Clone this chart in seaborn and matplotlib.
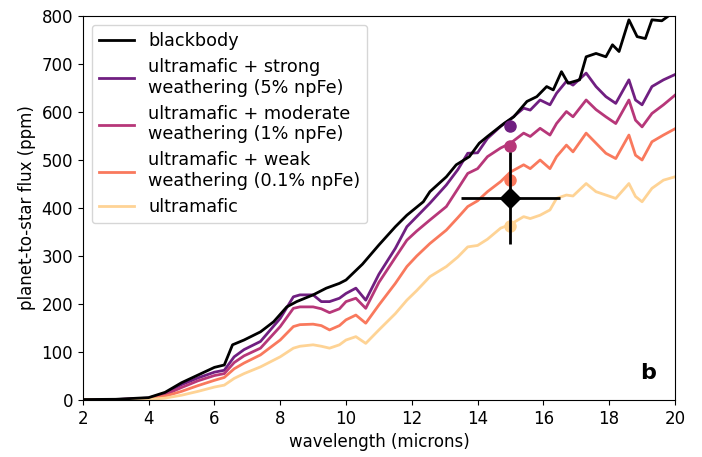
import numpy as np
import pandas as pd
import matplotlib
matplotlib.use('Agg')
import matplotlib.pyplot as plt
import seaborn as sns

# blackbody curve (own wavelength grid)
wl_bb = [2.0, 3.0, 4.0, 4.5, 5.0, 5.5, 6.0, 6.3, 6.55, 6.9, 7.4, 7.8, 8.2, 8.5, 9.0, 9.4, 9.8, 10.0,
         10.5, 11.0, 11.5, 11.85, 12.35, 12.55, 13.05, 13.35, 13.75, 14.05, 14.3, 14.8, 15.1, 15.5,
         15.8, 16.1, 16.3, 16.55, 16.75, 17.1, 17.3, 17.6, 17.9, 18.1, 18.3, 18.6, 18.85, 19.1, 19.3,
         19.6, 20.0]
blackbody = [1, 1.5, 5, 16, 36, 52, 68, 73, 115, 125, 142, 163, 194, 205, 219, 233, 243, 250,
             283, 323, 361, 385, 413, 434, 465, 490, 507, 535, 549, 576, 590, 622,
             632, 653, 646, 684, 660, 667, 715, 722, 715, 740, 726, 792, 757, 753, 792,
             790, 810]

# surface models (shared wavelength grid)
wl = [2.0, 3.0, 4.0, 4.5, 5.0, 5.5, 6.0, 6.3, 6.6, 6.9, 7.4, 8.0, 8.4, 8.6, 9.0, 9.25, 9.5, 9.8,
      10.0, 10.3, 10.6, 11.0, 11.5, 11.85, 12.15, 12.55, 13.05, 13.4, 13.7, 14.0, 14.3, 14.7, 15.0,
      15.4, 15.6, 15.9, 16.2, 16.4, 16.7, 16.9, 17.3, 17.6, 17.9, 18.2, 18.6, 18.8, 19.0, 19.3,
      19.65, 20.0]
strong = [1, 1, 4, 14, 32, 46, 58, 62, 90, 105, 122, 170, 215, 219, 219, 205, 205, 212,
          222, 233, 208, 262, 316, 361, 382, 410, 448, 480, 514, 515, 545, 570, 585,
          608, 604, 625, 615, 639, 664, 656, 681, 653, 632, 618, 667, 625, 615, 653,
          667, 678]
moderate = [1, 1, 3, 11, 26, 40, 51, 55, 78, 92, 108, 153, 191, 194, 194, 190, 182, 190,
            205, 212, 191, 245, 297, 333, 352, 375, 403, 440, 472, 482, 507, 525, 535,
            556, 549, 566, 552, 576, 601, 590, 625, 605, 590, 576, 625, 583, 569, 597,
            615, 635]
weak = [1, 1, 2, 8, 18, 30, 41, 47, 65, 77, 94, 125, 153, 157, 158, 155, 146, 155,
        167, 177, 160, 198, 243, 278, 300, 326, 354, 380, 403, 415, 434, 455, 475,
        490, 482, 500, 482, 507, 531, 517, 556, 535, 514, 503, 552, 510, 500, 538,
        552, 565]
ultramafic = [0.5, 0.5, 1, 4, 10, 18, 27, 31, 45, 55, 69, 90, 108, 112, 115, 112, 108, 115,
              125, 132, 118, 146, 180, 208, 228, 257, 278, 298, 319, 322, 335, 358, 366,
              382, 378, 385, 396, 420, 427, 425, 451, 434, 427, 420, 451, 424, 413, 441,
              458, 465]

# model values at 15 micron and the measurement
dot_x = 15.0
dot_vals = [570, 529, 458, 363]
obs_x, obs_y, obs_xerr, obs_yerr = 15.0, 421, 1.5, 95

labels = ['ultramafic + strong\nweathering (5% npFe)',
          'ultramafic + moderate\nweathering (1% npFe)',
          'ultramafic + weak\nweathering (0.1% npFe)',
          'ultramafic']
series = [strong, moderate, weak, ultramafic]
cmap = sns.color_palette('magma', as_cmap=True)
colors = [cmap(0.33), cmap(0.5), cmap(0.72), cmap(0.91)]

plt.rcParams['font.family'] = ['DejaVu Sans']
fig = plt.figure(figsize=(7.02, 4.57), dpi=100)
ax = fig.add_axes([0.118, 0.1247, 0.8435, 0.8403])

for vals, lab, c in zip(series, labels, colors):
    d = pd.DataFrame({'wl': wl, 'flux': vals})
    sns.lineplot(data=d, x='wl', y='flux', color=c, lw=2, ax=ax, label=lab)

dbb = pd.DataFrame({'wl': wl_bb, 'flux': blackbody})
sns.lineplot(data=dbb, x='wl', y='flux', color='black', lw=2, ax=ax, label='blackbody')

ax.errorbar(obs_x, obs_y, xerr=obs_xerr, yerr=obs_yerr, fmt='D', color='black',
            ms=10, elinewidth=2, capsize=0, zorder=5)
for v, c in zip(dot_vals, colors):
    ax.plot(dot_x, v, 'o', color=c, ms=8, zorder=4)

h, l = ax.get_legend_handles_labels()
order = [4, 0, 1, 2, 3]
ax.legend([h[i] for i in order], [l[i] for i in order], loc='upper left',
          fontsize=12.7, labelspacing=0.45)

ax.set_xlim(2, 20)
ax.set_ylim(0, 800)
ax.set_xticks(np.arange(2, 21, 2))
ax.set_yticks(np.arange(0, 801, 100))
ax.tick_params(labelsize=12)
ax.set_xlabel('wavelength (microns)', fontsize=12)
ax.set_ylabel('planet-to-star flux (ppm)', fontsize=12)
ax.text(0.955, 0.07, 'b', transform=ax.transAxes, fontsize=16, fontweight='bold',
        ha='center', va='center')

fig.savefig('out.png', dpi=100)
